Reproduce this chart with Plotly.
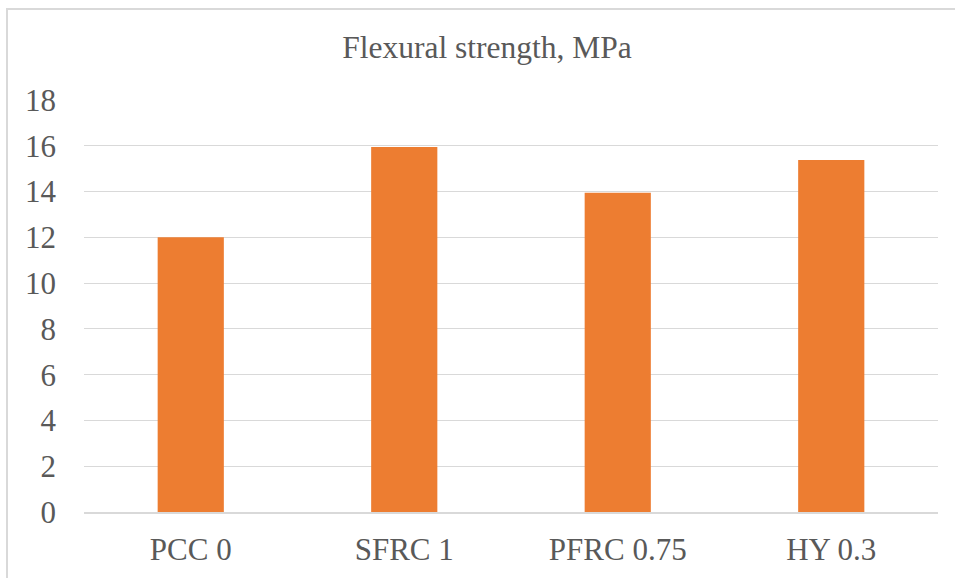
import plotly.graph_objects as go

categories = ["PCC 0", "SFRC 1", "PFRC 0.75", "HY 0.3"]
flexural_strength = [12.0, 15.95, 13.95, 15.38]
y_ticks = [0, 2, 4, 6, 8, 10, 12, 14, 16, 18]
title_text = "Flexural strength, MPa"

W, H = 955, 578
L, R, T, B = 84, 17, 100, 66
pw, ph = W - L - R, H - T - B

fig = go.Figure(
    go.Bar(x=categories, y=flexural_strength, marker_color="#ED7D31",
           marker_line_width=0, hoverinfo="x+y")
)

font_family = "Liberation Serif"

fig.update_layout(
    width=W, height=H,
    margin=dict(l=L, r=R, t=T, b=B, pad=0, autoexpand=False),
    paper_bgcolor="white", plot_bgcolor="white",
    bargap=0.69,
    showlegend=False,
    font=dict(family=font_family, color="#595959", size=31),
    title=dict(text=title_text, x=487 / W, xanchor="center", xref="container",
               y=1 - 47 / H, yanchor="middle", yref="container",
               font=dict(family=font_family, size=31.5, color="#595959")),
    xaxis=dict(showgrid=False, showline=True, linecolor="#D9D9D9", linewidth=1.5,
               ticks="", tickfont=dict(family=font_family, size=31, color="#595959"),
               ticklabelstandoff=9, fixedrange=True, automargin=False),
    yaxis=dict(range=[0, 18], tickvals=y_ticks, showgrid=True, gridcolor="#D9D9D9",
               gridwidth=1.3, zeroline=False, showline=False, ticks="",
               tickfont=dict(family=font_family, size=31, color="#595959"),
               ticklabelstandoff=27, fixedrange=True, automargin=False),
    shapes=[
        dict(type="rect", xref="paper", yref="paper",
             x0=(7 - L) / pw, x1=1.2, y0=-0.4, y1=(H - B - 9) / ph,
             line=dict(color="#D9D9D9", width=2), fillcolor="rgba(0,0,0,0)",
             layer="below"),
    ],
)

fig.write_html("out.html")
